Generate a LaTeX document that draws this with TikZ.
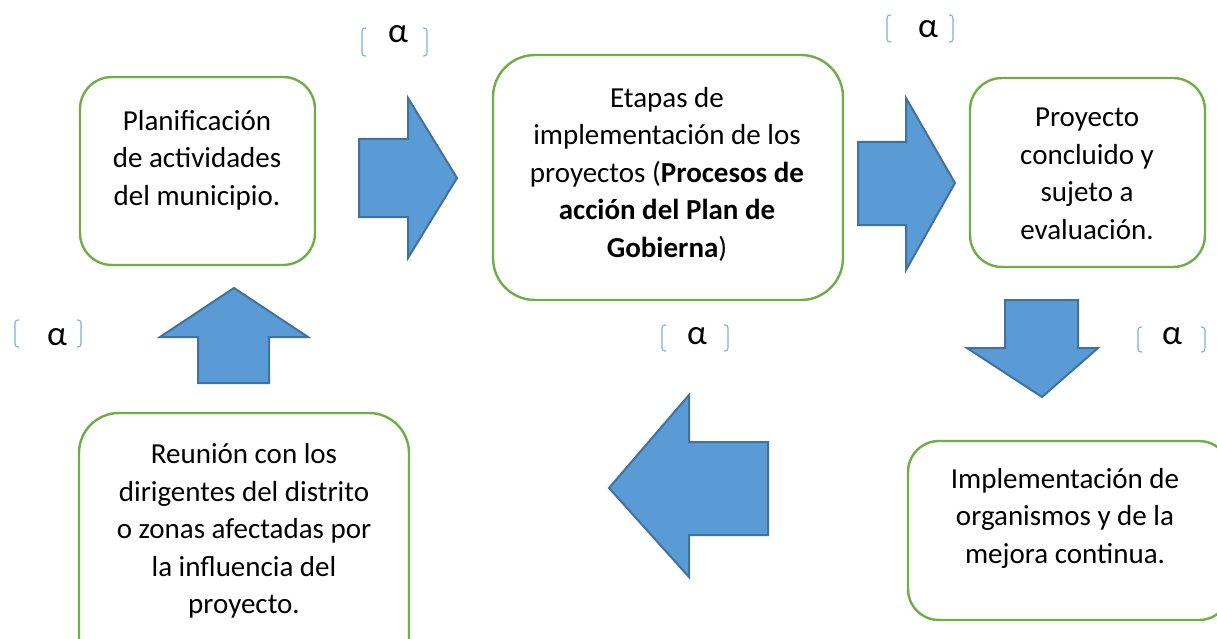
\documentclass[tikz,border=0pt]{standalone}
\usepackage{fontspec}
\setmainfont{Carlito}
\definecolor{boxgreen}{RGB}{112,173,71}
\definecolor{arrfill}{RGB}{91,155,213}
\definecolor{arrdraw}{RGB}{65,113,156}
\definecolor{brk}{RGB}{125,175,225}
\tikzset{
  roundbox/.style={draw=boxgreen, line width=2.4pt, fill=white},
  blockarrow/.style={fill=arrfill, draw=arrdraw, line width=2pt, line join=miter},
  boxtext/.style={align=center, inner sep=0pt, font=\fontsize{29}{37.5}\selectfont},
  alphatext/.style={inner sep=0pt, font=\fontsize{35}{40}\selectfont},
  bracket/.style={draw=brk, line width=1.1pt, rounded corners=3pt}
}
\begin{document}
\begin{tikzpicture}[x=1pt,y=-1pt]
\useasboundingbox (0,0) rectangle (1217,639);
% boxes
\draw[roundbox, rounded corners=32pt] (80,77) rectangle (315,265);
\draw[roundbox, rounded corners=42pt] (493,55) rectangle (843,300);
\draw[roundbox, rounded corners=32pt] (970,78) rectangle (1205,267);
\draw[roundbox, rounded corners=31pt] (908,441) rectangle (1230,620);
\draw[roundbox, rounded corners=40pt] (79,413) rectangle (409,680);
% texts
\node[boxtext] (t1) at (197,160) {Planificación\\de actividades\\del municipio.};
\node[boxtext] (t2) at (667,174) {Etapas de\\implementación de los\\proyectos (\textbf{Procesos de}\\\textbf{acción del Plan de}\\\textbf{Gobierna})};
\node[boxtext] (t3) at (1087,174) {Proyecto\\concluido y\\sujeto a\\evaluación.};
\node[boxtext] (t4) at (1065,518) {Implementación de\\organismos y de la\\mejora continua.};
\node[boxtext] (t5) at (244,531) {Reunión con los\\dirigentes del distrito\\o zonas afectadas por\\la influencia del\\proyecto.};
% block arrows
\draw[blockarrow] (359,139) -- (408,139) -- (408,98) -- (457,178) -- (408,258) -- (408,217) -- (359,217) -- cycle;
\draw[blockarrow] (858,142) -- (906,142) -- (906,98) -- (955,183) -- (906,270) -- (906,225) -- (858,225) -- cycle;
\draw[blockarrow] (1005,300) -- (1078,300) -- (1078,348) -- (1098,348) -- (1042,397) -- (967,348) -- (1005,348) -- cycle;
\draw[blockarrow] (768,442) -- (689,442) -- (689,395) -- (609,488) -- (689,577) -- (689,535) -- (768,535) -- cycle;
\draw[blockarrow] (198,383) -- (198,337) -- (160,337) -- (234,288) -- (308,337) -- (269,337) -- (269,383) -- cycle;
% alpha labels
\node[alphatext] (a1) at (398,34) {α};
\draw[bracket] (366,28) -- (362,28) -- (362,56) -- (366,56);
\draw[bracket] (423,28) -- (427,28) -- (427,56) -- (423,56);
\node[alphatext] (a2) at (928,29) {α};
\draw[bracket] (891,15) -- (887,15) -- (887,42) -- (891,42);
\draw[bracket] (949,15) -- (953,15) -- (953,42) -- (949,42);
\node[alphatext] (a3) at (57,337) {α};
\draw[bracket] (19,320) -- (15,320) -- (15,347) -- (19,347);
\draw[bracket] (77,320) -- (81,320) -- (81,347) -- (77,347);
\node[alphatext] (a4) at (697,336) {α};
\draw[bracket] (666,325) -- (662,325) -- (662,351) -- (666,351);
\draw[bracket] (724,325) -- (728,325) -- (728,351) -- (724,351);
\node[alphatext] (a5) at (1172,336) {α};
\draw[bracket] (1142,327) -- (1138,327) -- (1138,352) -- (1142,352);
\draw[bracket] (1201,327) -- (1205,327) -- (1205,352) -- (1201,352);
\end{tikzpicture}
\end{document}
